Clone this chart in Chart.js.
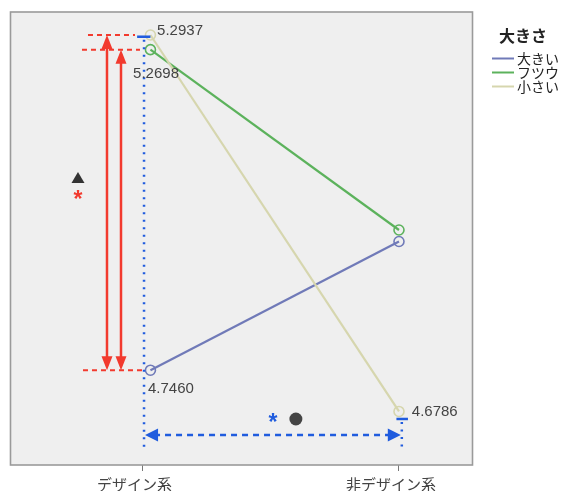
<!DOCTYPE html>
<html>
<head>
<meta charset="utf-8">
<script src="https://cdn.jsdelivr.net/npm/chart.js@4/dist/chart.umd.min.js"></script>
<style>
  html, body { margin: 0; padding: 0; background: #fff; }
  #wrap { width: 571px; height: 491px; position: relative; }
</style>
</head>
<body>
<div id="wrap"><canvas id="c" width="571" height="491"></canvas></div>
<script>
// Groups on the x axis and mean scores per size class
const categories = ['デザイン系', '非デザイン系'];
const seriesNames = ['大きい', 'フツウ', '小さい'];
const valuesLarge  = [4.7460, 4.9563];
const valuesMedium = [5.2698, 4.9751];
const valuesSmall  = [5.2937, 4.6786];
const legendTitle = '大きさ';

const seriesColors = ['rgb(112,122,184)', 'rgb(92,178,92)', 'rgb(214,214,174)'];
const seriesValues = [valuesLarge, valuesMedium, valuesSmall];

// the first group's points sit slightly right of their tick
const groupX = [1.031, 2];

const datasets = seriesNames.map((name, i) => ({
  label: name,
  data: seriesValues[i].map((v, j) => ({ x: groupX[j], y: v })),
  borderColor: seriesColors[i],
  borderWidth: 2.2,
  pointRadius: 5,
  pointHoverRadius: 5,
  pointBorderWidth: 1.6,
  pointBorderColor: seriesColors[i],
  pointBackgroundColor: 'rgba(0,0,0,0)',
  tension: 0,
  order: 2 - i
}));

const LABEL_FONT = '15px "Liberation Sans", Arial, sans-serif';
const CJK = '"Noto Sans CJK JP", "Noto Sans", sans-serif';
const STAR_FONT = 'bold 23px "Liberation Sans", Arial, sans-serif';
const RED = 'rgb(242,58,46)';
const BLUE = 'rgb(32,92,222)';

function line(ctx, x1, y1, x2, y2, color, width, dash) {
  ctx.save();
  ctx.strokeStyle = color;
  ctx.lineWidth = width;
  ctx.setLineDash(dash || []);
  ctx.beginPath();
  ctx.moveTo(x1, y1);
  ctx.lineTo(x2, y2);
  ctx.stroke();
  ctx.restore();
}

function head(ctx, tipX, tipY, dx, dy, len, half, color) {
  // dx, dy: unit direction the arrow points to
  const bx = tipX - dx * len, by = tipY - dy * len;
  const px = -dy, py = dx;
  ctx.save();
  ctx.fillStyle = color;
  ctx.beginPath();
  ctx.moveTo(tipX, tipY);
  ctx.lineTo(bx + px * half, by + py * half);
  ctx.lineTo(bx - px * half, by - py * half);
  ctx.closePath();
  ctx.fill();
  ctx.restore();
}

function text(ctx, str, x, y, font, color, align) {
  ctx.save();
  ctx.font = font;
  ctx.fillStyle = color;
  ctx.textAlign = align || 'left';
  ctx.textBaseline = 'middle';
  ctx.fillText(str, x, y);
  ctx.restore();
}

const panel = {
  id: 'panel',
  beforeDatasetsDraw(chart) {
    const a = chart.chartArea, ctx = chart.ctx;
    ctx.save();
    ctx.fillStyle = '#efefef';
    ctx.fillRect(a.left, a.top, a.right - a.left, a.bottom - a.top);
    ctx.restore();
  },
  afterDraw(chart) {
    const a = chart.chartArea, ctx = chart.ctx;
    ctx.save();
    ctx.strokeStyle = '#9a9a9a';
    ctx.lineWidth = 1.6;
    ctx.strokeRect(a.left, a.top, a.right - a.left, a.bottom - a.top);
    ctx.restore();
  }
};

const notes = {
  id: 'notes',
  afterDatasetsDraw(chart) {
    const ctx = chart.ctx;
    const X = v => chart.scales.x.getPixelForValue(v);
    const Y = v => chart.scales.y.getPixelForValue(v);

    // red comparison brackets on the left
    line(ctx, X(0.7875), Y(valuesSmall[0]), X(0.9708), Y(valuesSmall[0]), RED, 2, [5, 4]);
    line(ctx, X(0.7641), Y(valuesMedium[0]), X(0.9903), Y(valuesMedium[0]), RED, 2, [5, 4]);
    line(ctx, X(0.768), Y(valuesLarge[0]), X(1.002), Y(valuesLarge[0]), RED, 2, [5, 4]);

    [[0.8616, valuesSmall[0]], [0.9162, valuesMedium[0]]].forEach(([xv, top]) => {
      const x = X(xv), y1 = Y(top), y2 = Y(valuesLarge[0]);
      line(ctx, x, y1 + 10, x, y2 - 10, RED, 2.5);
      head(ctx, x, y1, 0, -1, 14, 5.5, RED);
      head(ctx, x, y2, 0, 1, 14, 5.5, RED);
    });

    // blue comparison across groups
    const xl = X(1.006), xr = X(2.011);
    line(ctx, X(0.979), Y(5.2909), X(1.031), Y(5.2909), BLUE, 2.5);
    line(ctx, X(1.99), Y(4.6663), X(2.035), Y(4.6663), BLUE, 2.5);
    line(ctx, xl, Y(5.2909) + 3, xl, Y(4.6205), BLUE, 2.5, [2, 5.5]);
    line(ctx, xr, Y(4.6663) + 3, xr, Y(4.6205), BLUE, 2.5, [2, 5.5]);
    const ya = Y(4.6401);
    line(ctx, xl + 10, ya, xr - 10, ya, BLUE, 2.5, [6, 5]);
    head(ctx, xl + 1, ya, -1, 0, 13, 6.5, BLUE);
    head(ctx, xr - 1, ya, 1, 0, 13, 6.5, BLUE);

    // significance marks
    text(ctx, '*', X(1.5088), Y(4.6630) + 3, STAR_FONT, BLUE, 'center');
    ctx.save();
    ctx.fillStyle = '#444';
    ctx.beginPath();
    ctx.arc(X(1.598), Y(4.6663), 6.5, 0, Math.PI * 2);
    ctx.fill();
    ctx.restore();
    ctx.save();
    ctx.fillStyle = '#333';
    const tx = X(0.7485), ty = Y(5.0600);
    ctx.beginPath();
    ctx.moveTo(tx, ty - 6);
    ctx.lineTo(tx + 6.5, ty + 5);
    ctx.lineTo(tx - 6.5, ty + 5);
    ctx.closePath();
    ctx.fill();
    ctx.restore();
    text(ctx, '*', X(0.7485), Y(5.0274) + 3, STAR_FONT, RED, 'center');

    // value labels
    const fmt = v => v.toFixed(4);
    text(ctx, fmt(valuesSmall[0]), X(1.057), Y(valuesSmall[0]) - 4, LABEL_FONT, '#444');
    text(ctx, fmt(valuesMedium[0]), X(0.9634), Y(valuesMedium[0]) + 24, LABEL_FONT, '#444');
    text(ctx, fmt(valuesLarge[0]), X(1.0214), Y(valuesLarge[0]) + 19, LABEL_FONT, '#444');
    text(ctx, fmt(valuesSmall[1]), X(2.05), Y(valuesSmall[1]), LABEL_FONT, '#444');

    // legend
    text(ctx, legendTitle, 523, 36, 'bold 16px ' + CJK, '#222', 'center');
    seriesNames.forEach((name, i) => {
      const y = 58.5 + i * 14;
      line(ctx, 492, y, 514, y, seriesColors[i], 2);
      text(ctx, name, 517, y, '14px ' + CJK, '#222');
    });
  }
};

new Chart(document.getElementById('c'), {
  type: 'line',
  data: { datasets },
  plugins: [panel, notes],
  options: {
    responsive: false,
    animation: false,
    events: [],
    layout: { padding: { left: 10.5, top: 12, right: 98.5, bottom: 0 } },
    plugins: { legend: { display: false }, tooltip: { enabled: false } },
    scales: {
      x: {
        type: 'linear',
        min: 0.4854,
        max: 2.2866,
        afterBuildTicks: s => { s.ticks = [{ value: 1 }, { value: 2 }]; },
        afterFit: s => { s.height = 26; },
        grid: { drawOnChartArea: false, drawTicks: true, tickLength: 6, color: '#777', lineWidth: 1 },
        border: { display: false },
        ticks: {
          callback: v => categories[v - 1],
          font: { family: CJK, size: 15 },
          color: '#444',
          padding: 4,
          labelOffset: -8,
          maxRotation: 0,
          autoSkip: false
        }
      },
      y: {
        display: false,
        min: 4.5911,
        max: 5.3313
      }
    }
  }
});
</script>
</body>
</html>
